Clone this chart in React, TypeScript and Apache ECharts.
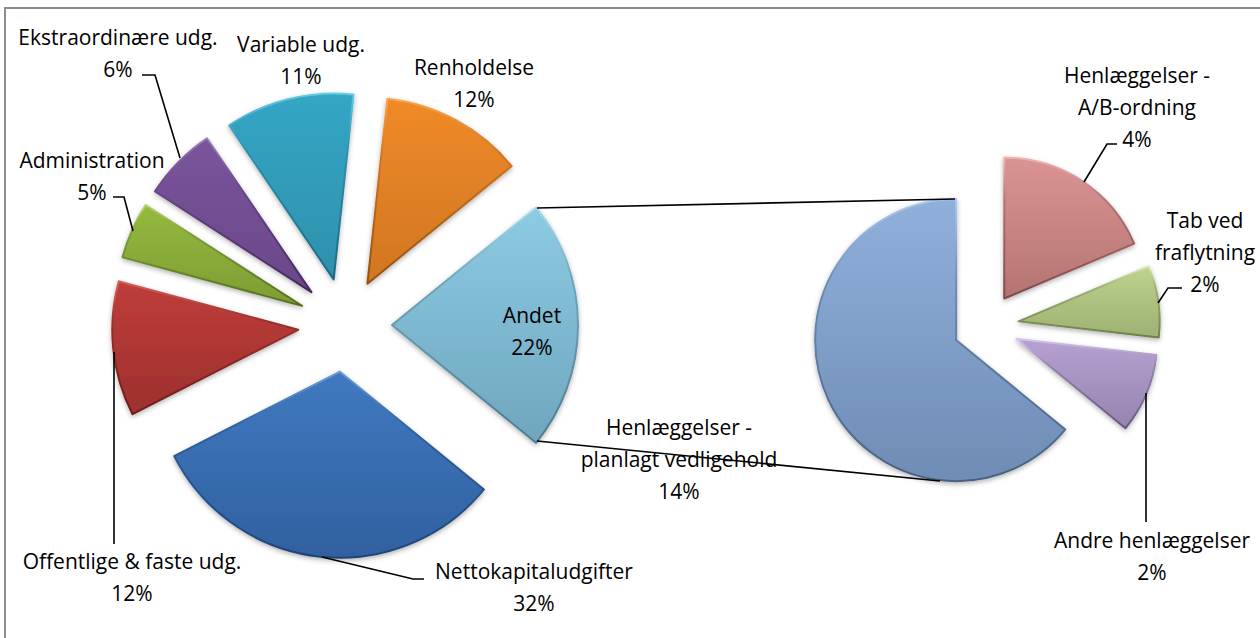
import React, { useEffect, useRef } from "react";
import * as echarts from "echarts";

const mainNames = ["Andet", "Nettokapitaludgifter", "Offentlige & faste udg.", "Administration", "Ekstraordinære udg.", "Variable udg.", "Renholdelse"];
const mainValues = [21.8, 31.6, 11.7, 4.9, 6.4, 11.2, 12.4];
const subNames = ["Henlæggelser -\nplanlagt vedligehold", "Henlæggelser -\nA/B-ordning", "Tab ved\nfraflytning", "Andre henlæggelser"];
const subValues = [14.1, 4.1, 1.8, 2.0];

const FONT = "'Open Sans', Lato, sans-serif";

const mainColors: [string, string][] = [
  ["#8ccbe3", "#6fa6bd"],
  ["#4079c0", "#30609f"],
  ["#bf3d3a", "#9c302d"],
  ["#94ba3e", "#7c9d34"],
  ["#7a549c", "#694888"],
  ["#34a6c5", "#2e90ac"],
  ["#f08a28", "#d07622"],
];
const subColors: [string, string][] = [
  ["#90b0dc", "#6e8cb4"],
  ["#da9492", "#b47472"],
  ["#bdd38e", "#9db172"],
  ["#b6a2d2", "#9783ae"],
];
const mainBorders: [string, string][] = [
  ["#a9dcef", "#4d7b90"],
  ["#6a9adb", "#1f4475"],
  ["#d9625e", "#6a1c1a"],
  ["#b2d462", "#566f1e"],
  ["#9c7cbc", "#45295e"],
  ["#66cbe4", "#1d6880"],
  ["#f9a850", "#94500f"],
];
const subBorders: [string, string][] = [
  ["#aecaee", "#48607f"],
  ["#eeb4b2", "#7f4947"],
  ["#d6e8ae", "#6e8048"],
  ["#d6c6ee", "#655580"],
];

const mainLabelPos = [
  [532, 331],
  [534, 587],
  [132, 577],
  [92, 176],
  [118, 53],
  [301, 60],
  [474, 83],
];
const subLabelPos = [
  [679, 459],
  [1137, 107],
  [1205, 252],
  [1152, 556],
];

const grad = (c: [string, string]) =>
  new echarts.graphic.LinearGradient(0, 0, 0, 1, [
    { offset: 0, color: c[0] },
    { offset: 1, color: c[1] },
  ]);

const borderGrad = (c: [string, string], mid: string) =>
  new echarts.graphic.LinearGradient(0, 0, 0, 1, [
    { offset: 0, color: c[0] },
    { offset: 0.3, color: mid },
    { offset: 1, color: c[1] },
  ]);

const items = (names: string[], values: number[], colors: [string, string][], borders: [string, string][]) =>
  names.map((name, i) => ({
    name,
    value: values[i],
    selected: true,
    itemStyle: {
      color: grad(colors[i]),
      borderColor: borderGrad(borders[i], colors[i][1]),
      borderWidth: 2,
      shadowBlur: 5,
      shadowOffsetY: 2,
      shadowColor: "rgba(0,0,0,0.3)",
    },
  }));

const pieCommon = {
  type: "pie",
  selectedMode: "multiple",
  clockwise: true,
  avoidLabelOverlap: false,
  silent: true,
  label: { show: false },
  labelLine: { show: false },
  emphasis: { disabled: true },
};

const labelTexts = (names: string[], values: number[], pos: number[][]) =>
  names.map((name, i) => ({
    type: "text",
    z: 50,
    silent: true,
    x: pos[i][0],
    y: pos[i][1],
    style: {
      text: `${name}\n${Math.round(values[i])}%`,
      fontFamily: FONT,
      fontSize: 21,
      lineHeight: 32,
      fill: "#000",
      textAlign: "center",
      textVerticalAlign: "middle",
    },
  }));

const leaders: number[][][] = [
  [[142, 75], [155, 75], [180, 158]],
  [[113, 197], [124, 197], [133, 231]],
  [[114, 352], [114, 544]],
  [[322, 557], [413, 579], [424, 579]],
  [[1084, 182], [1107, 144], [1117, 144]],
  [[1158, 303], [1168, 288], [1182, 288]],
  [[1146, 393], [1146, 522]],
  [[537, 208], [955, 199]],
  [[537, 441], [940, 481]],
];

export default function App() {
  const ref = useRef<HTMLDivElement>(null);
  useEffect(() => {
    const chart = echarts.init(ref.current!, undefined, { renderer: "svg" });
    chart.setOption({
      animation: false,
      backgroundColor: "#fff",
      series: [
        {
          ...pieCommon,
          center: [345, 325],
          radius: [0, 186],
          startAngle: 39.2,
          selectedOffset: 47,
          data: items(mainNames, mainValues, mainColors, mainBorders),
        },
        {
          ...pieCommon,
          center: [986, 326],
          radius: [0, 141],
          startAngle: 320.7,
          selectedOffset: 33,
          data: items(subNames, subValues, subColors, subBorders),
        },
      ],
      graphic: [
        {
          type: "rect",
          z: -10,
          silent: true,
          shape: { x: 5, y: 8, width: 1260, height: 640 },
          style: { fill: "none", stroke: "#8c8c8c", lineWidth: 2 },
        },
        ...labelTexts(mainNames, mainValues, mainLabelPos),
        ...labelTexts(subNames, subValues, subLabelPos),
        ...leaders.map((pts) => ({
          type: "polyline",
          z: 100,
          silent: true,
          shape: { points: pts },
          style: { fill: "none", stroke: "#000", lineWidth: 1.6 },
        })),
      ],
    });
    return () => chart.dispose();
  }, []);
  return <div ref={ref} style={{ position: "absolute", left: 0, top: 0, width: 1260, height: 638 }} />;
}
